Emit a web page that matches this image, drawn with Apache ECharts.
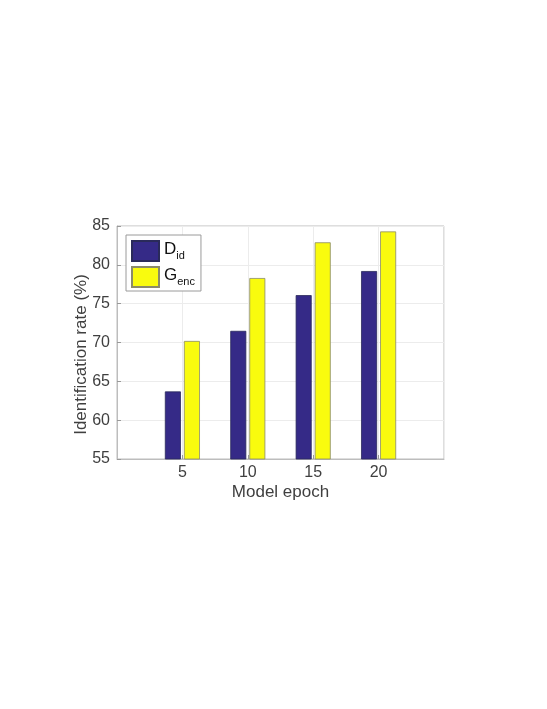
<!DOCTYPE html>
<html>
<head>
<meta charset="utf-8">
<script src="https://cdn.jsdelivr.net/npm/echarts@6/dist/echarts.min.js"></script>
<style>html,body{margin:0;padding:0;background:#fff;}#c{width:547px;height:709px;}</style>
</head>
<body>
<div id="c"></div>
<script>
const epochs = [5, 10, 15, 20];
const dId = [63.7, 71.5, 76.1, 79.2];
const gEnc = [70.2, 78.3, 82.9, 84.3];
const yTicks = [55, 60, 65, 70, 75, 80, 85];

const font = 'Liberation Sans, Arial, sans-serif';
const txt = '#3f3f3f';
const chart = echarts.init(document.getElementById('c'));
chart.setOption({
  backgroundColor: '#fff',
  animation: false,
  grid: { left: 117, right: 103, top: 226, bottom: 250, show: true, borderColor: '#bdbdbd', borderWidth: 1, backgroundColor: '#fff' },
  legend: {
    orient: 'vertical', left: 126, top: 235,
    data: ['D', 'G'],
    itemWidth: 27, itemHeight: 20, itemGap: 1, icon: 'rect',
    padding: [2, 6, 3, 5],
    borderColor: '#9a9a9a', borderWidth: 1, backgroundColor: '#fff',
    formatter: function (n) { return n === 'D' ? '{m|D}{s|id}' : '{m|G}{s|enc}'; },
    textStyle: {
      fontFamily: font,
      rich: {
        m: { fontSize: 17, color: '#111', fontFamily: font, lineHeight: 20, verticalAlign: 'top' },
        s: { fontSize: 11, color: '#111', fontFamily: font, lineHeight: 14, padding: [13, 0, 0, 0], verticalAlign: 'bottom' }
      }
    }
  },
  xAxis: {
    type: 'value', min: 0, max: 25, interval: 5,
    name: 'Model epoch', nameLocation: 'middle', nameGap: 25,
    nameTextStyle: { fontFamily: font, fontSize: 17, color: txt },
    axisLine: { show: true, onZero: false, lineStyle: { color: '#bdbdbd' } },
    axisTick: { show: true, inside: true, length: 4, lineStyle: { color: '#999' } },
    axisLabel: { margin: 6, fontFamily: font, fontSize: 16, color: txt, showMinLabel: false, showMaxLabel: false,
      formatter: function (v) { return epochs.indexOf(v) >= 0 ? String(v) : ''; } },
    splitLine: { show: true, lineStyle: { color: '#ececec' } }
  },
  yAxis: {
    type: 'value', min: yTicks[0], max: yTicks[yTicks.length - 1], interval: 5,
    name: 'Identification rate (%)', nameLocation: 'middle', nameGap: 27, nameMoveOverlap: false,
    nameTextStyle: { fontFamily: font, fontSize: 17, color: txt, padding: [0, 24, 0, 0] },
    axisLine: { show: true, lineStyle: { color: '#bdbdbd' } },
    axisTick: { show: true, inside: true, length: 4, lineStyle: { color: '#999' } },
    axisLabel: { margin: 7, fontFamily: font, fontSize: 16, color: txt },
    splitLine: { show: true, lineStyle: { color: '#ececec' } }
  },
  series: [
    { name: 'D', type: 'bar', barWidth: 16, barGap: '19%',
      data: epochs.map((e, i) => [e, dId[i]]),
      itemStyle: { color: '#352a87', borderColor: '#2a2a5a', borderWidth: 0.8 } },
    { name: 'G', type: 'bar', barWidth: 16, barGap: '19%',
      data: epochs.map((e, i) => [e, gEnc[i]]),
      itemStyle: { color: '#f9fb0e', borderColor: '#8a8a6a', borderWidth: 0.8 } }
  ]
});
</script>
</body>
</html>
